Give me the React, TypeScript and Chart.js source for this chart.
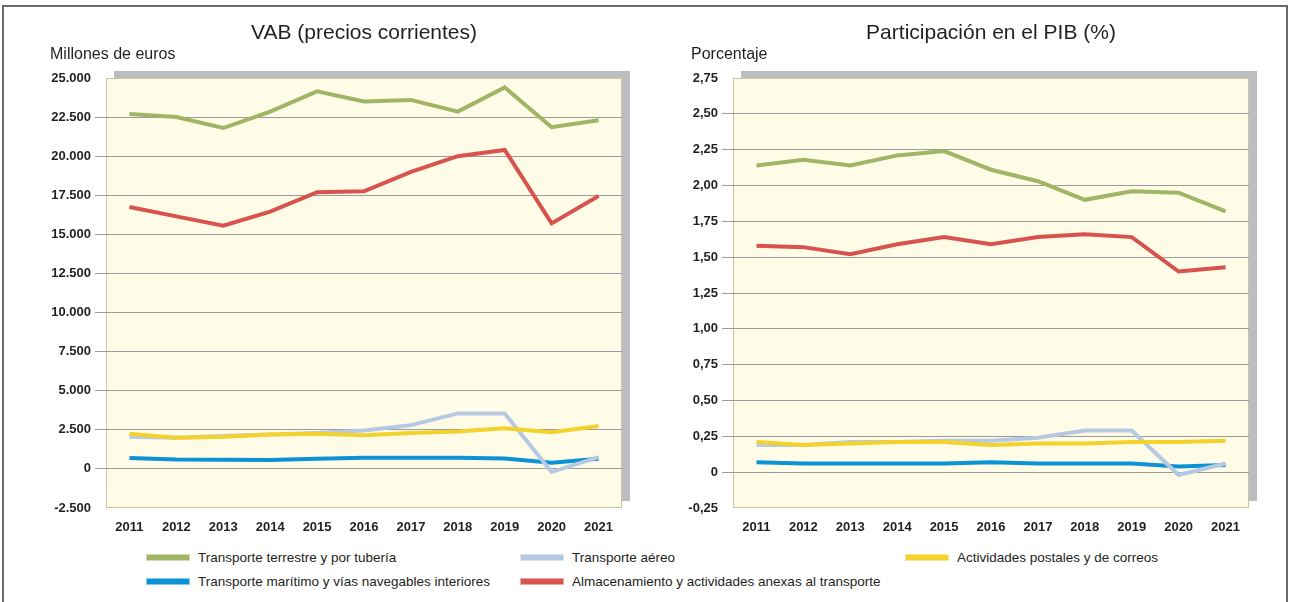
import React, { useEffect, useRef } from 'react';
import { Chart, registerables } from 'chart.js';

Chart.register(...registerables);

// ---------- DATA ----------
const years = ['2011', '2012', '2013', '2014', '2015', '2016', '2017', '2018', '2019', '2020', '2021'];

const seriesNames = [
  'Transporte terrestre y por tubería',
  'Transporte aéreo',
  'Actividades postales y de correos',
  'Transporte marítimo y vías navegables interiores',
  'Almacenamiento y actividades anexas al transporte',
];
const seriesColors = ['#a1b566', '#b5c9e3', '#f4d22c', '#0c93d6', '#d8534e'];
const seriesOrder = [3, 1, 0, 2, 3];

// VAB, millones de euros
const vabTerrestre = [22700, 22500, 21800, 22850, 24150, 23500, 23600, 22850, 24400, 21850, 22300];
const vabAereo = [2050, 2000, 2100, 2200, 2300, 2450, 2800, 3550, 3550, -200, 750];
const vabPostales = [2250, 2000, 2050, 2200, 2250, 2150, 2300, 2400, 2600, 2350, 2750];
const vabMaritimo = [700, 600, 580, 570, 650, 720, 720, 720, 670, 400, 650];
const vabAlmacenamiento = [16750, 16150, 15550, 16450, 17700, 17750, 19000, 20000, 20400, 15700, 17450];

// Participación en el PIB, %
const pibTerrestre = [2.14, 2.18, 2.14, 2.21, 2.24, 2.11, 2.03, 1.9, 1.96, 1.95, 1.82];
const pibAereo = [0.19, 0.19, 0.21, 0.21, 0.22, 0.22, 0.24, 0.29, 0.29, -0.02, 0.06];
const pibPostales = [0.21, 0.19, 0.2, 0.21, 0.21, 0.19, 0.2, 0.2, 0.21, 0.21, 0.22];
const pibMaritimo = [0.07, 0.06, 0.06, 0.06, 0.06, 0.07, 0.06, 0.06, 0.06, 0.04, 0.05];
const pibAlmacenamiento = [1.58, 1.57, 1.52, 1.59, 1.64, 1.59, 1.64, 1.66, 1.64, 1.4, 1.43];

const vabTitle = 'VAB (precios corrientes)';
const vabCaption = 'Millones de euros';
const vabMin = -2500;
const vabMax = 25000;
const vabStep = 2500;

const pibTitle = 'Participación en el PIB (%)';
const pibCaption = 'Porcentaje';
const pibMin = -0.25;
const pibMax = 2.75;
const pibStep = 0.25;

const fmtVab = (v: number) => {
  const r = Math.round(v);
  if (r === 0) return '0';
  const s = Math.abs(r).toString().replace(/\B(?=(\d{3})+(?!\d))/g, '.');
  return (r < 0 ? '-' : '') + s;
};
const fmtPib = (v: number) => {
  const r = Math.round(v * 100) / 100;
  if (r === 0) return '0';
  return r.toFixed(2).replace('.', ',');
};

const SANS = "'Liberation Sans', Arial, Helvetica, sans-serif";
const TEXT = '#231f20';

const plotBg = {
  id: 'plotBg',
  beforeDraw(chart: any) {
    const { ctx, chartArea } = chart;
    const { left, top, width, height } = chartArea;
    ctx.save();
    ctx.fillStyle = '#bcbdc0';
    ctx.fillRect(left + 8, top - 7, width, height);
    ctx.fillStyle = '#fefbe7';
    ctx.fillRect(left, top, width, height);
    ctx.strokeStyle = '#c9c6a6';
    ctx.lineWidth = 1;
    ctx.strokeRect(left + 0.5, top + 0.5, width - 1, height - 1);
    ctx.restore();
  },
};

const captionPlugin = {
  id: 'caption',
  afterDraw(chart: any, _args: any, opts: any) {
    const { ctx, chartArea } = chart;
    ctx.save();
    ctx.fillStyle = TEXT;
    ctx.font = '16px ' + SANS;
    ctx.textAlign = 'left';
    ctx.textBaseline = 'middle';
    ctx.fillText(opts.text, opts.x, chartArea.top - 23);
    ctx.restore();
  },
};

type PanelProps = {
  title: string;
  caption: string;
  data: number[][];
  min: number;
  max: number;
  step: number;
  fmt: (v: number) => string;
  width: number;
  height: number;
  padRight: number;
  yWidth: number;
  captionX: number;
  left: number;
};

function Panel(p: PanelProps) {
  const ref = useRef<HTMLCanvasElement>(null);
  useEffect(() => {
    if (!ref.current) return;
    const gridColor = (ctx: any) => {
      const n = ctx.scale && ctx.scale.ticks ? ctx.scale.ticks.length : 0;
      if (ctx.index === 0 || ctx.index === n - 1) return 'rgba(0,0,0,0)';
      return '#9b9b9b';
    };
    const chart = new Chart(ref.current, {
      type: 'line',
      data: {
        labels: years,
        datasets: p.data.map((d, i) => ({
          label: seriesNames[i],
          data: d,
          borderColor: seriesColors[i],
          backgroundColor: seriesColors[i],
          borderWidth: 4,
          pointRadius: 0,
          tension: 0,
          fill: false,
          order: seriesOrder[i],
        })),
      },
      options: {
        animation: false,
        responsive: false,
        devicePixelRatio: 1,
        layout: { padding: { left: 0, right: p.padRight, top: 0, bottom: 0 } },
        plugins: {
          legend: { display: false },
          tooltip: { enabled: false },
          title: {
            display: true,
            text: p.title,
            fullSize: false,
            color: TEXT,
            font: { family: SANS, size: 21, weight: 'normal', lineHeight: 1 },
            padding: { top: 23, bottom: 34 },
          },
          caption: { text: p.caption, x: p.captionX },
        } as any,
        scales: {
          x: {
            offset: true,
            grid: { display: false, drawTicks: false },
            border: { display: false },
            ticks: {
              color: TEXT,
              font: { family: SANS, size: 13, weight: 'bold', lineHeight: 1.2 },
              padding: 12,
              maxRotation: 0,
              autoSkip: false,
            },
            afterFit: (s: any) => {
              s.height = 37;
            },
          },
          y: {
            min: p.min,
            max: p.max,
            grid: {
              color: gridColor,
              tickColor: gridColor,
              tickLength: 11,
              lineWidth: 1,
            },
            border: { display: false },
            ticks: {
              stepSize: p.step,
              color: TEXT,
              font: { family: SANS, size: 13, weight: 'bold' },
              padding: 4,
              callback: (v: any) => p.fmt(Number(v)),
            },
            afterFit: (s: any) => {
              s.width = p.yWidth;
            },
          },
        },
      },
      plugins: [plotBg, captionPlugin],
    });
    return () => chart.destroy();
  }, []);
  return (
    <canvas
      ref={ref}
      width={p.width}
      height={p.height}
      style={{ position: 'absolute', left: p.left, top: 0, width: p.width, height: p.height }}
    />
  );
}

const legendRows = [
  [0, 1, 2],
  [3, 4],
];
const legendColX = [147, 521, 906];
const legendRowY = [557, 581];

export default function App() {
  return (
    <div
      style={{
        position: 'absolute',
        left: 0,
        top: 0,
        width: 1289,
        height: 602,
        overflow: 'hidden',
        background: '#ffffff',
      }}
    >
      <div
        style={{
          position: 'absolute',
          left: 2,
          top: 5,
          width: 1286,
          height: 700,
          boxSizing: 'border-box',
          border: '2px solid #6a6a6a',
        }}
      />
      <Panel
        title={vabTitle}
        caption={vabCaption}
        data={[vabTerrestre, vabAereo, vabPostales, vabMaritimo, vabAlmacenamiento]}
        min={vabMin}
        max={vabMax}
        step={vabStep}
        fmt={fmtVab}
        width={645}
        height={545}
        padRight={23}
        yWidth={106}
        captionX={50}
        left={0}
      />
      <Panel
        title={pibTitle}
        caption={pibCaption}
        data={[pibTerrestre, pibAereo, pibPostales, pibMaritimo, pibAlmacenamiento]}
        min={pibMin}
        max={pibMax}
        step={pibStep}
        fmt={fmtPib}
        width={644}
        height={545}
        padRight={40}
        yWidth={88}
        captionX={46}
        left={645}
      />
      {legendRows.map((row, ri) =>
        row.map((si, ci) => (
          <div
            key={si}
            style={{
              position: 'absolute',
              left: legendColX[ci],
              top: legendRowY[ri] - 10,
              height: 20,
              display: 'flex',
              alignItems: 'center',
              whiteSpace: 'nowrap',
            }}
          >
            <div
              style={{
                width: 42,
                height: 5,
                background: seriesColors[si],
                boxShadow: '0 0 0 1px ' + seriesColors[si] + '80',
                marginRight: 9,
              }}
            />
            <span style={{ fontFamily: SANS, fontSize: 13.5, color: TEXT }}>{seriesNames[si]}</span>
          </div>
        ))
      )}
    </div>
  );
}
